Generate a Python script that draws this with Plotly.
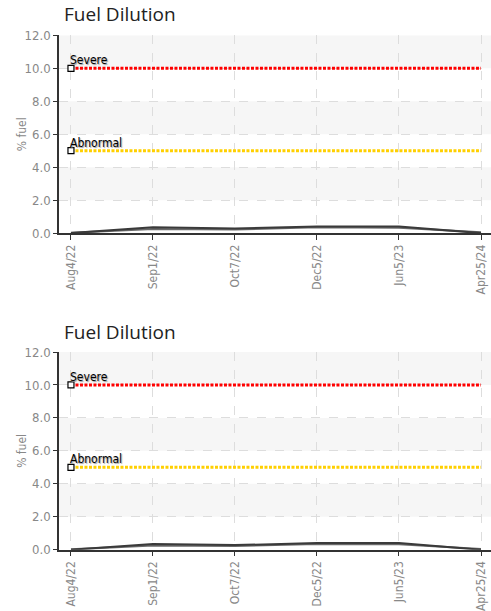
import plotly.graph_objects as go

# ---- data ----
dates = ["Aug4/22", "Sep1/22", "Oct7/22", "Dec5/22", "Jun5/23", "Apr25/24"]
severe = [10.0, 10.0, 10.0, 10.0, 10.0, 10.0]
abnormal = [5.0, 5.0, 5.0, 5.0, 5.0, 5.0]
sample_a = [0.0, 0.35, 0.28, 0.40, 0.40, 0.0]
sample_b = [0.02, 0.25, 0.22, 0.35, 0.33, 0.05]
y_ticks = [0, 2, 4, 6, 8, 10, 12]
title_text = "Fuel Dilution"
y_title = "% fuel"

NARROW = "Liberation Sans Narrow, DejaVu Sans Condensed, Roboto, sans-serif"
TITLE_FONT = "Open Sans, Noto Sans, sans-serif"

W, H = 491, 611
fig = go.Figure()

panels = [("x", "y"), ("x2", "y2")]
for xa, ya in panels:
    for vals, col in [(sample_b, "#6a6a6a"), (sample_a, "#3a3a3a")]:
        fig.add_trace(go.Scatter(x=dates, y=vals, xaxis=xa, yaxis=ya, mode="lines",
                                 line=dict(color=col, width=2), showlegend=False,
                                 hoverinfo="skip"))
    for vals, col, name in [(severe, "#ff0000", "Severe"), (abnormal, "#ffd000", "Abnormal")]:
        fig.add_trace(go.Scatter(x=dates, y=vals, xaxis=xa, yaxis=ya, mode="lines",
                                 line=dict(color=col, width=3, dash="3px,1.5px"),
                                 showlegend=False, name=name))
        fig.add_trace(go.Scatter(x=dates[:1], y=vals[:1], xaxis=xa, yaxis=ya, mode="markers",
                                 marker=dict(symbol="square", size=6, color="white",
                                             line=dict(color="black", width=1.2)),
                                 showlegend=False, hoverinfo="skip"))
        fig.add_annotation(x=dates[0], y=vals[0], xref=xa, yref=ya, text=name,
                           showarrow=False, xanchor="left", yanchor="bottom",
                           xshift=-3, yshift=-1,
                           font=dict(family=NARROW, size=12, color="#000",
                                     shadow="1px 1px 1px #999999"))
    # alternate bands
    for lo in [2, 6, 10]:
        fig.add_shape(type="rect", xref=xa + " domain", yref=ya, x0=0, x1=1, y0=lo, y1=lo + 2,
                      fillcolor="#f6f6f6", line=dict(width=0), layer="below")
    # y-axis title
    fig.add_annotation(text=y_title, xref="paper", yref=ya + " domain", x=-37 / 432, y=0.5,
                       xanchor="center", yanchor="middle", textangle=-90, showarrow=False,
                       font=dict(family=NARROW, size=12, color="#888"))

domains = [[(H - 232.2) / H, (H - 29.1) / H], [(H - 557.3) / H, (H - 354.3) / H]]
title_y = [(H - 7.6) / H, (H - 333.7) / H]

ax_common = dict(
    type="category", range=[-0.146, 5.122], showgrid=True, gridcolor="#dddddd",
    griddash="dash", gridwidth=1, showline=True, linecolor="#333", linewidth=1.5,
    ticks="outside", ticklen=5, tickcolor="#333", tickangle=-90,
    tickfont=dict(family=NARROW, size=12, color="#888"), zeroline=False,
)
ay_common = dict(
    range=[0, 12], tickvals=y_ticks, tickformat=".1f", showgrid=True,
    gridcolor="#dddddd", griddash="dash", gridwidth=1, showline=True,
    linecolor="#333", linewidth=1.5, ticks="outside", ticklen=4, tickcolor="#333",
    tickfont=dict(family=NARROW, size=13, color="#888"), zeroline=False,
)

fig.update_layout(
    width=W, height=H,
    margin=dict(l=59, r=0, t=0, b=0),
    paper_bgcolor="white", plot_bgcolor="white",
    xaxis=dict(ax_common, domain=[0, 1], anchor="y"),
    yaxis=dict(ay_common, domain=domains[0], anchor="x"),
    xaxis2=dict(ax_common, domain=[0, 1], anchor="y2"),
    yaxis2=dict(ay_common, domain=domains[1], anchor="x2"),
)

for ty in title_y:
    fig.add_annotation(text=title_text, xref="paper", yref="paper", x=0.006, y=ty,
                       xanchor="left", yanchor="middle", showarrow=False,
                       font=dict(family=TITLE_FONT, size=19, color="#222"))

fig.write_html("out.html", config={"displayModeBar": False},
               post_script="document.body.style.margin='0';document.body.style.overflow='hidden';")
